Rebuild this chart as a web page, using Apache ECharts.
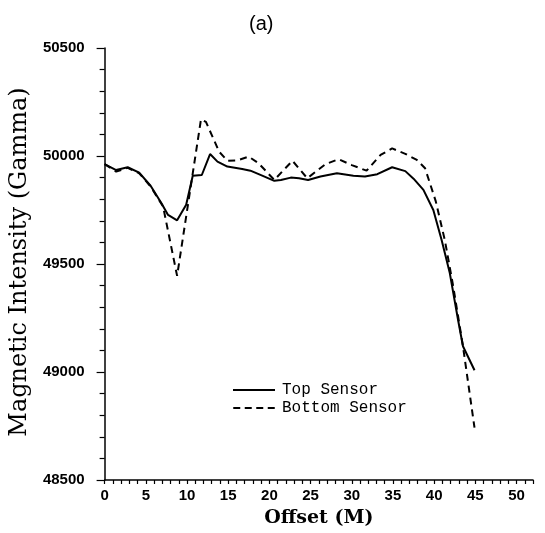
<!DOCTYPE html>
<html>
<head>
<meta charset="utf-8">
<script src="https://cdn.jsdelivr.net/npm/echarts@6/dist/echarts.min.js"></script>
<style>
  html, body { margin: 0; padding: 0; background: #fff; }
  #chart { width: 545px; height: 533px; }
</style>
</head>
<body>
<div id="chart"></div>
<script>
// Offsets (M) and readings (gamma)
const topOffsets = [0, 1.4, 2.8, 4.2, 5.6, 6.9, 7.7, 8.8, 9.9, 10.7, 11.8, 12.8, 13.7, 14.9, 16.7, 17.7, 19.2, 20.6, 21.4, 22.6, 23.6, 24.7, 26.2, 28.2, 30.2, 31.6, 33.1, 34.9, 36.5, 37.5, 38.7, 39.9, 40.9, 41.9, 42.9, 43.5, 44.9];
const topValues = [49962, 49935, 49948, 49923, 49861, 49781, 49727, 49702, 49774, 49909, 49912, 50009, 49974, 49951, 49940, 49932, 49908, 49885, 49889, 49900, 49897, 49889, 49905, 49920, 49909, 49905, 49916, 49948, 49930, 49895, 49843, 49750, 49612, 49458, 49242, 49119, 49008];

const bottomOffsets = [0, 1.4, 2.8, 4.2, 5.6, 7.1, 8.8, 11.7, 12.3, 13.9, 14.9, 16.1, 17.5, 18.7, 20.6, 22.8, 24.6, 26.8, 28.4, 30.0, 31.8, 33.5, 34.9, 36.5, 37.9, 38.9, 40.2, 41.3, 42.3, 43.5, 44.9];
const bottomValues = [49962, 49928, 49945, 49920, 49858, 49766, 49445, 50170, 50158, 50020, 49978, 49980, 49997, 49966, 49889, 49978, 49897, 49962, 49985, 49958, 49932, 50005, 50035, 50010, 49982, 49943, 49790, 49610, 49400, 49119, 48742];

const chart = echarts.init(document.getElementById('chart'));

const pair = (xs, ys) => xs.map((x, i) => [x, ys[i]]);

// legend keys: plain bar for the solid line, four short bars for the dashed one
const solidKey = 'path://M0,0h42v2h-42z';
const dashedKey = 'path://M0,0h7v2h-7z M11.5,0h7v2h-7z M23,0h7v2h-7z M34.5,0h7v2h-7z';

chart.setOption({
  animation: false,
  backgroundColor: '#fff',
  color: ['#000', '#000'],
  title: {
    text: '(a)',
    left: 244,
    top: 9,
    textStyle: {
      fontFamily: 'Liberation Sans',
      fontSize: 20,
      fontWeight: 'normal',
      color: '#000'
    }
  },
  grid: {
    left: 103,
    right: 12,
    top: 48,
    bottom: 52
  },
  legend: {
    orient: 'vertical',
    left: 228,
    top: 377,
    itemWidth: 42,
    itemHeight: 2,
    itemGap: 2,
    textStyle: {
      fontFamily: 'Liberation Mono',
      fontSize: 16,
      color: '#000',
      padding: [0, 0, 0, 2]
    },
    data: [
      { name: 'Top Sensor', icon: solidKey },
      { name: 'Bottom Sensor', icon: dashedKey }
    ]
  },
  xAxis: {
    type: 'value',
    min: 0,
    max: 52,
    interval: 1,
    name: 'Offset (M)',
    nameLocation: 'middle',
    nameGap: 29,
    nameTextStyle: {
      fontFamily: 'DejaVu Serif',
      fontSize: 19,
      fontWeight: 'bold',
      color: '#000'
    },
    axisLine: { lineStyle: { color: '#000', width: 1.5 } },
    axisTick: { length: 4, lineStyle: { color: '#000', width: 1.2 } },
    axisLabel: {
      margin: 8,
      color: '#000',
      fontFamily: 'Liberation Sans',
      fontWeight: 'bold',
      fontSize: 15,
      formatter: v => (v % 5 === 0 && v <= 50 ? String(v) : '')
    },
    splitLine: { show: false }
  },
  yAxis: {
    type: 'value',
    min: 48500,
    max: 50500,
    interval: 500,
    name: 'Magnetic Intensity (Gamma)',
    nameLocation: 'middle',
    nameGap: 60,
    nameTextStyle: {
      fontFamily: 'DejaVu Serif',
      fontSize: 24,
      color: '#000',
      padding: [0, 0, 0, 4]
    },
    axisLine: { show: true, lineStyle: { color: '#000', width: 1.5 } },
    axisTick: { show: true, length: 8, lineStyle: { color: '#000', width: 1.2 } },
    minorTick: { show: true, splitNumber: 5, length: 5, lineStyle: { color: '#000', width: 1.2 } },
    axisLabel: {
      margin: 20,
      color: '#000',
      fontFamily: 'Liberation Sans',
      fontWeight: 'bold',
      fontSize: 15,
      formatter: v => String(v)
    },
    splitLine: { show: false },
    minorSplitLine: { show: false }
  },
  series: [
    {
      name: 'Top Sensor',
      type: 'line',
      data: pair(topOffsets, topValues),
      symbol: 'none',
      itemStyle: { color: '#000' },
      lineStyle: { color: '#000', width: 2 }
    },
    {
      name: 'Bottom Sensor',
      type: 'line',
      data: pair(bottomOffsets, bottomValues),
      symbol: 'none',
      itemStyle: { color: '#000' },
      lineStyle: { color: '#000', width: 2, type: [7, 5] }
    }
  ]
});
</script>
</body>
</html>
